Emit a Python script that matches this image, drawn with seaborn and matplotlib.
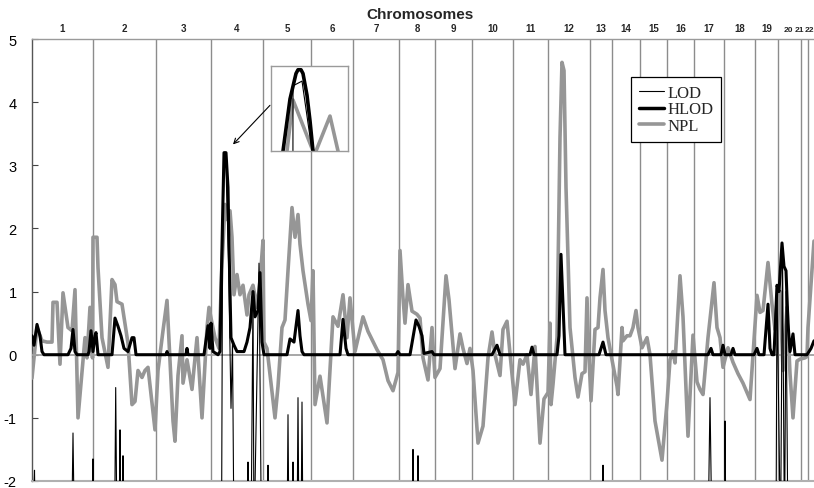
import numpy as np
import pandas as pd
import matplotlib
matplotlib.use("Agg")
import matplotlib.pyplot as plt
import seaborn as sns
from matplotlib.lines import Line2D
from matplotlib.transforms import blended_transform_factory

sns.set_style("white")
plt.rcParams["font.family"] = ["Liberation Sans", "DejaVu Sans"]
plt.rcParams["axes.unicode_minus"] = False

# ---------------- data ----------------
chrom_names = [str(i) for i in range(1, 23)]
# chromosome lengths in map units (genome-wide cumulative axis)
chrom_len = [61, 63, 55, 52, 48, 42, 46, 36, 37, 41, 35, 42, 22, 28, 27, 27, 30, 31, 23, 23, 7, 14]

npl_pos = [0, 5, 10, 15, 20, 21, 25, 28, 31, 36, 40, 43, 46, 53, 55, 58, 60.5, 61, 65, 66, 70, 76, 80, 83, 85,
           90, 96, 100, 103, 106, 110, 113, 116, 123, 126, 131, 135, 141, 143, 146, 150, 151, 155, 160, 165,
           170, 175, 177, 180, 183, 187, 190, 193, 195, 198, 200, 202, 205, 208, 211, 215, 217, 221, 225, 228,
           231, 232, 235, 243, 246, 250, 253, 256, 260, 263, 266, 268, 271, 276, 279, 281, 283, 288, 295, 301,
           306, 311, 315, 318, 323, 331, 336, 345, 351, 356, 361, 366, 368, 371, 373, 376, 380, 385, 388, 391,
           396, 400, 403, 408, 414, 417, 423, 428, 431, 435, 438, 441, 446, 451, 456, 460, 463, 468, 471, 475,
           478, 483, 488, 491, 495, 499, 503, 508, 512, 516, 518, 519, 521, 525, 528, 530, 532, 534, 538, 543,
           546, 550, 553, 555, 557, 559, 563, 566, 568, 571, 573, 576, 580, 585, 586, 590, 591, 595, 598, 601,
           604, 606, 610, 615, 618, 623, 630, 635, 638, 641, 643, 648, 651, 656, 661, 665, 668, 671, 676, 682,
           685, 688, 691, 696, 701, 706, 711, 718, 725, 728, 731, 736, 740, 743, 748, 751, 755, 758, 761, 765,
           768, 773, 775, 776, 780, 782]
npl_val = [-0.37, 0.43, 0.22, 0.2, 0.2, 0.83, 0.83, -0.15, 0.98, 0.43, 0.38, 1.03, -1.0, 0.27, -0.05, 0.75, -0.05,
           1.86, 1.86, 1.38, 0.27, -0.2, 1.19, 1.11, 0.84,
           0.8, 0.18, -0.79, -0.74, -0.25, -0.36, -0.25, -0.2, -1.19, -0.25, 0.38, 0.86, -1.05, -1.37, -0.33, 0.3,
           -0.45, -0.08, -0.55, 0.27,
           -1.0, 0.43, 0.75, 0.5, 0.27, 0.1, 1.43, 2.38, 2.14, 2.28, 1.86, 0.95, 1.27, 0.95, 1.1, 0.63, 0.95, 1.1,
           0.75, 1.16,
           1.81, 0.2, 0.1, -1.0, -0.5, 0.43, 0.55, 1.33, 2.33, 1.86, 2.22, 1.75, 1.33, 0.8, 0.54, 1.33, -0.79,
           -0.34, -1.08, 0.6,
           0.45, 0.95, 0.27, 0.9, 0.05, 0.6, 0.37, 0.08, -0.08, -0.41, -0.57, -0.28, 1.65, 0.9, 0.5, 1.11, 0.69,
           0.64, 0.58, -0.05,
           -0.4, 0.43, -0.36, -0.22, 1.25, 0.87, -0.22, 0.33, 0.1, -0.14, 0.1, -0.25, -1.4, -1.13, -0.05, 0.36,
           0.0, -0.33, 0.4, 0.53,
           0.02, -0.79, -0.08, -0.15, 0.0, -0.63, 0.13, -1.4, -0.7, -0.6, 0.5, -0.79, -0.47, 0.27, 3.44, 4.63,
           4.5, 2.65, 0.43, -0.36,
           -0.67, -0.3, -0.27, 0.9, -0.05, -0.73, 0.4, 0.43, 0.9, 1.35, 0.7, 0.27, -0.08, -0.5, -0.63, 0.43, 0.22,
           0.3, 0.3, 0.43,
           0.7, 0.43, 0.11, 0.27, 0.0, -1.05, -1.67, -0.76, -0.08, 0.05, -0.13, 1.25, 0.6, -1.29, 0.31, -0.43,
           -0.55, -0.63, 0.27, 1.14,
           0.43, 0.27, -0.2, 0.11, -0.12, -0.3, -0.45, -0.71, 0.94, 0.67, 0.7, 1.46, 0.8, 0.4, 1.0, -0.25, 0.75,
           -0.3, -1.0, -0.1,
           -0.07, -0.05, -0.03, 0.43, 1.33, 1.8]

hlod_pos = [0, 2, 5, 8, 10, 12, 36, 39, 41, 43, 45, 56, 57, 59, 61, 63, 64, 66, 80, 83, 86, 89, 92, 96, 100, 102,
            104, 134, 135, 136, 154, 155, 156, 172, 176, 178, 179, 181, 186, 188, 189, 192, 194, 196, 197, 199,
            202, 205, 212, 215, 218, 221, 223, 226, 228, 230, 232, 255, 258, 262, 266, 268, 270, 272, 308, 311,
            314, 316, 364, 366, 368, 378, 384, 387, 390, 392, 400, 402, 460, 465, 468, 498, 500, 502, 525, 527,
            529, 531, 533, 567, 571, 574, 676, 679, 681, 689, 691, 693, 699, 701, 703, 722, 725, 727, 732, 736,
            738, 740, 742, 745, 747, 750, 752, 754, 756, 758, 761, 763, 775, 779, 782]
hlod_val = [0.3, 0.15, 0.48, 0.3, 0.05, 0, 0, 0.1, 0.4, 0.05, 0, 0, 0.05, 0.38, 0.05, 0.3, 0.35, 0, 0, 0.58, 0.45,
            0.3, 0.1, 0.05, 0.27, 0.27,
            0, 0, 0.05, 0, 0, 0.1, 0, 0, 0.46, 0.1, 0.5, 0.05, 0, 0.05, 1.0, 3.2, 3.2, 2.65, 1.74, 0.27,
            0.15, 0.05, 0.05, 0.2, 0.43, 1.0, 0.6, 0.7, 1.3, 0.2, 0, 0, 0.25, 0.2, 0.7, 0.3, 0.05, 0, 0, 0.56,
            0.1, 0, 0, 0.05, 0, 0, 0.55, 0.45, 0.3, 0.02, 0.05, 0, 0, 0.15, 0, 0, 0.12, 0, 0, 0.3,
            1.59, 0.8, 0, 0, 0.2, 0, 0, 0.1, 0, 0, 0.15, 0, 0, 0.1, 0, 0, 0.1, 0, 0, 0.8,
            0.1, 0, 0, 1.1, 1.0, 1.77, 1.4, 1.33, 0.5, 0.05, 0.33, 0, 0, 0.1, 0.22]

# LOD is mostly below the -2 floor; only its peaks reach into view
lod_pos = [0, 2.5, 3.5, 39.5, 41, 42.5, 60, 61, 62, 82.5, 83.7, 85, 87, 88, 89, 90, 91, 92, 189.5, 190.5, 192,
           194, 196.5, 199, 200.5, 202, 215, 216, 217, 219, 221, 222, 224, 227, 229.5, 235.5, 236, 236.5, 255,
           256, 257, 260, 261, 262, 265, 266, 267, 269, 270, 271, 380, 381, 382, 385, 386, 387.5, 570.5, 571,
           571.5, 676, 678, 680, 692.5, 693, 694, 744, 745, 748.5, 750.5, 752.5, 754, 756, 782]
lod_val = [-3, -1.83, -3, -3, -1.24, -3, -3, -1.65, -3, -3, -0.52, -3, -3, -1.19, -3, -3, -1.6, -3, -3, 1.5, 3.05,
           2.95, 1.5, -0.85, 0.2, -3, -3, -1.7, -3, -3, 0.95, -3, -1.2, 1.45, -3, -3, -1.75, -3, -3,
           -0.95, -3, -3, -1.7, -3, -3, -0.68, -3, -3, -0.75, -3, -3, -1.5, -3, -3, -1.6, -3, -3, -1.75,
           -3, -3, -0.68, -3, -3, -1.05, -3, -3, 1.1, -3, 1.7, -3, 1.0, -3, -3]

# inset: magnified chromosome-4 peak
inset_hlod_pos = [11, 12, 19, 25, 27, 30, 32, 36, 39, 42, 43]
inset_hlod_val = [2.3, 2.4, 2.95, 3.22, 3.26, 3.26, 3.22, 2.99, 2.72, 2.4, 2.3]
inset_lod_pos = [21.9, 22, 31, 41, 42]
inset_lod_val = [2.0, 3.09, 3.14, 2.4, 2.3]
inset_npl_pos = [15, 16, 22, 42, 43.5, 45, 59, 67, 68]
inset_npl_val = [2.3, 2.4, 2.94, 2.4, 2.35, 2.4, 2.77, 2.4, 2.3]

yticks = [-2, -1, 0, 1, 2, 3, 4, 5]

# ---------------- styling ----------------
GRAY = "#969696"
LINEGRAY = "#8c8c8c"

fig = plt.figure(figsize=(8.14, 4.89), dpi=100)
ax = fig.add_axes([32 / 814, 7 / 489, 782 / 814, 442 / 489])

bounds = np.cumsum(chrom_len)
starts = np.concatenate([[0], bounds[:-1]])
centers = (starts + bounds) / 2

for b in bounds[:-1]:
    ax.axvline(b, color=LINEGRAY, lw=1.0, zorder=1)
ax.axhline(0, color="#a0a0a0", lw=1.3, zorder=3.5)

df_npl = pd.DataFrame({"pos": npl_pos, "score": npl_val})
df_hlod = pd.DataFrame({"pos": hlod_pos, "score": hlod_val})
df_lod = pd.DataFrame({"pos": lod_pos, "score": lod_val})

sns.lineplot(data=df_npl, x="pos", y="score", ax=ax, color=GRAY, lw=2.6,
             estimator=None, sort=False, zorder=3)
sns.lineplot(data=df_hlod, x="pos", y="score", ax=ax, color="black", lw=2.2,
             estimator=None, sort=False, zorder=4)
sns.lineplot(data=df_lod, x="pos", y="score", ax=ax, color="black", lw=0.8,
             estimator=None, sort=False, zorder=5)

ax.set_xlim(0, 782)
ax.set_ylim(-2, 5)
ax.set_xticks([])
ax.set_yticks(yticks)
ax.set_yticklabels([str(t) for t in yticks])
ax.tick_params(axis="y", direction="in", length=4, width=0.8, color="#444444",
               pad=11, labelsize=10.5, labelcolor="black", left=True)
ax.set_xlabel("")
ax.set_ylabel("")
ax.grid(False)
ax.spines["left"].set_color("#555555")
ax.spines["left"].set_linewidth(1.0)
ax.spines["top"].set_color("#9a9a9a")
ax.spines["top"].set_linewidth(1.0)
ax.spines["bottom"].set_color("#b0b0b0")
ax.spines["bottom"].set_linewidth(1.5)
ax.spines["right"].set_visible(False)

# chromosome labels on top
trans = blended_transform_factory(ax.transData, ax.transAxes)
n = len(chrom_names)
for i, (name, c) in enumerate(zip(chrom_names, centers)):
    size = 7
    if i == n - 1:
        xpos, ha, size = ax.get_xlim()[1] - 0.2, "right", 6
    elif i == n - 2:
        xpos, ha, size = bounds[i] - 3.5, "right", 6
    elif i == n - 3:
        xpos, ha, size = c - 1.5, "center", 6
    else:
        xpos, ha = c, "center"
    ax.text(xpos, 1.018, name, transform=trans, ha=ha, va="baseline",
            fontsize=size, fontweight="bold",
            family=["Liberation Sans Narrow", "Liberation Sans", "DejaVu Sans"], clip_on=False)
ax.text(388, 1.048, "Chromosomes", transform=trans, ha="center", va="baseline",
        fontsize=11, fontweight="bold", clip_on=False)

# legend
handles = [Line2D([], [], color="black", lw=0.8),
           Line2D([], [], color="black", lw=2.5),
           Line2D([], [], color=GRAY, lw=2.6)]
leg = ax.legend(handles, ["LOD", "HLOD", "NPL"], loc="upper left",
                bbox_to_anchor=(0.766, 0.914), frameon=True, fancybox=False,
                edgecolor="black", framealpha=1, handlelength=1.5, handletextpad=0.25,
                labelspacing=0.05, borderpad=0.45, borderaxespad=0,
                prop={"family": ["Liberation Serif", "DejaVu Serif"], "size": 12})
leg.get_frame().set_linewidth(0.9)
leg.set_zorder(10)

# arrow to the chromosome-4 peak
ax.annotate("", xy=(201, 3.33), xytext=(238, 3.95),
            arrowprops=dict(arrowstyle="->", color="black", lw=0.8,
                            shrinkA=0, shrinkB=0, mutation_scale=9), zorder=6)

# inset
iax = fig.add_axes([271 / 814, 1 - 152 / 489, 77 / 814, 85 / 489])
iax.set_facecolor("white")
sns.lineplot(x=inset_npl_pos, y=inset_npl_val, ax=iax, color=GRAY, lw=2.6,
             estimator=None, sort=False)
sns.lineplot(x=inset_hlod_pos, y=inset_hlod_val, ax=iax, color="black", lw=2.6,
             estimator=None, sort=False)
sns.lineplot(x=inset_lod_pos, y=inset_lod_val, ax=iax, color="black", lw=0.8,
             estimator=None, sort=False)
iax.set_xlim(0, 77)
iax.set_ylim(2.4, 3.3)
iax.set_xticks([])
iax.set_yticks([])
iax.set_xlabel("")
iax.set_ylabel("")
for s in iax.spines.values():
    s.set_color("#9a9a9a")
    s.set_linewidth(1.0)
    s.set_visible(True)

fig.savefig("out.png", dpi=100)
